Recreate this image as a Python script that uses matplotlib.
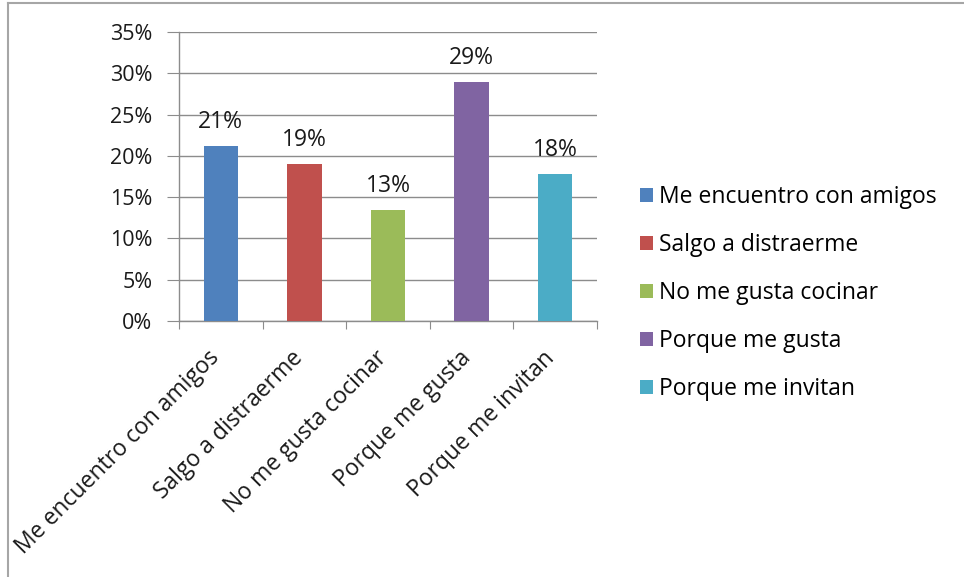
import matplotlib
matplotlib.use("Agg")
import matplotlib.pyplot as plt
from matplotlib.lines import Line2D
from matplotlib.patches import Patch
from matplotlib.ticker import MultipleLocator, FuncFormatter
from matplotlib.transforms import blended_transform_factory, ScaledTranslation

categories = ["Me encuentro con amigos", "Salgo a distraerme", "No me gusta cocinar",
              "Porque me gusta", "Porque me invitan"]
values = [0.212, 0.190, 0.134, 0.289, 0.178]
colors = ["#4F81BD", "#C0504D", "#9BBB59", "#8064A2", "#4BACC6"]

plt.rcParams['font.family'] = ['Open Sans', 'DejaVu Sans']

W, H = 964, 577
DPI = 100
fig = plt.figure(figsize=(W / DPI, H / DPI), dpi=DPI)

# plot area in pixel coordinates
x0, x1, ytop, ybot = 179, 597, 32, 321
ax = fig.add_axes([x0 / W, 1 - ybot / H, (x1 - x0) / W, (ybot - ytop) / H])

xs = list(range(len(categories)))
ax.bar(xs, values, width=0.41, color=colors, zorder=3)
for x, v in zip(xs, values):
    ax.text(x, v + 0.015, f"{v:.0%}", ha='center', va='bottom', fontsize=16.5, color='#1a1a1a')

ax.set_xlim(-0.5, len(categories) - 0.5)
ax.set_ylim(0, 0.35)
ax.yaxis.set_major_locator(MultipleLocator(0.05))
ax.yaxis.set_major_formatter(FuncFormatter(lambda v, _: f"{v:.0%}"))
ax.grid(axis='y', color='#8c8c8c', linewidth=1.0, zorder=0)

for s in ['top', 'right']:
    ax.spines[s].set_visible(False)
for s in ['left', 'bottom']:
    ax.spines[s].set_color('#8c8c8c')
    ax.spines[s].set_linewidth(1.0)

ax.tick_params(axis='y', direction='out', length=9, color='#8c8c8c', labelsize=15.5,
               labelcolor='#1a1a1a', pad=10)
# category boundaries carry the tick marks
ax.set_xticks([i - 0.5 for i in range(len(categories) + 1)])
ax.set_xticklabels([])
ax.tick_params(axis='x', direction='out', length=6, color='#8c8c8c')

# rotated category names under each bar
label_tr = blended_transform_factory(ax.transData, ax.transAxes) + \
    ScaledTranslation(-13 / DPI, -25 / DPI, fig.dpi_scale_trans)
for x, name in zip(xs, categories):
    ax.text(x, 0, name, transform=label_tr, rotation=45, ha='right', va='top',
            rotation_mode='anchor', fontsize=16.5, color='#1a1a1a', clip_on=False)

handles = [Patch(facecolor=c, edgecolor='none') for c in colors]
fig.legend(handles, categories, loc='upper left', bbox_to_anchor=(640 / W, 1 - 185 / H),
           frameon=False, fontsize=16.5, handlelength=0.55, handleheight=0.55,
           handletextpad=0.3, labelspacing=1.05, borderpad=0, borderaxespad=0)

# chart frame: top and left edges
fig.add_artist(Line2D([8 / W, 1], [1 - 3 / H, 1 - 3 / H], color='#a6a6a6', lw=1.5,
                      transform=fig.transFigure))
fig.add_artist(Line2D([8 / W, 8 / W], [0, 1 - 3 / H], color='#a6a6a6', lw=1.5,
                      transform=fig.transFigure))

fig.savefig("out.png", dpi=DPI, facecolor='white')
